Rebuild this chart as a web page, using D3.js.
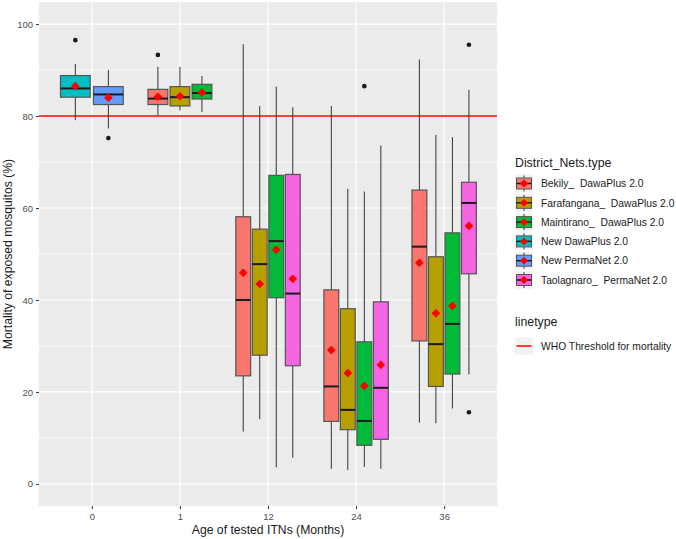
<!DOCTYPE html>
<html>
<head>
<meta charset="utf-8">
<script src="https://cdn.jsdelivr.net/npm/d3@7"></script>
<style>
  body { margin: 0; background: #fff; }
  svg { display: block; font-family: "Liberation Sans", Arial, sans-serif; }
  text { white-space: pre; }
</style>
</head>
<body>
<svg width="676" height="539"></svg>
<script>
// categories on the x axis
let ages = ["0", "1", "12", "24", "36"];
let groups = ["Bekily_  DawaPlus 2.0", "Farafangana_  DawaPlus 2.0", "Maintirano_  DawaPlus 2.0",
              "New DawaPlus 2.0", "New PermaNet 2.0", "Taolagnaro_  PermaNet 2.0"];
let colors = ["#F8766D", "#B79F00", "#00BA38", "#00BFC4", "#619CFF", "#F564E3"];
let yTicks = [0, 20, 40, 60, 80, 100];
let threshold = 80;

// one entry per box (age, group index) and its stats
let boxAge   = ["0", "0", "1", "1", "1", "12", "12", "12", "12", "24", "24", "24", "24", "36", "36", "36", "36"];
let boxGroup = [3, 4, 0, 1, 2, 0, 1, 2, 5, 0, 1, 2, 5, 0, 1, 2, 5];
let whiskLo  = [79.1, 77.3, 80.2, 81.2, 80.9, 11.4, 14.1, 3.6, 5.7, 3.3, 3.0, 3.7, 3.3, 13.3, 13.2, 16.4, 23.8];
let q1       = [84.1, 82.5, 82.5, 82.2, 83.7, 23.5, 28.0, 40.5, 25.7, 13.6, 11.8, 8.4, 9.7, 31.1, 21.2, 23.9, 45.7];
let median   = [86.0, 84.7, 83.8, 84.1, 85.0, 40.0, 47.8, 52.8, 41.4, 21.2, 16.1, 13.7, 20.9, 51.6, 30.4, 34.8, 61.1];
let q3       = [88.8, 86.4, 85.8, 86.4, 86.9, 58.1, 55.4, 67.1, 67.3, 42.2, 38.1, 30.9, 39.6, 63.9, 49.4, 54.6, 65.6];
let whiskHi  = [91.3, 90.0, 90.7, 90.7, 88.7, 95.6, 82.2, 86.4, 81.9, 82.2, 64.2, 63.6, 73.6, 92.3, 75.9, 75.4, 85.7];
let means    = [86.5, 84.0, 84.2, 84.3, 85.1, 45.9, 43.5, 50.9, 44.6, 29.1, 24.1, 21.3, 25.9, 48.1, 37.1, 38.7, 56.1];
let outliers = [[96.5], [75.2], [93.3], [], [], [], [], [], [], [], [], [86.5], [], [], [], [], [95.5, 15.6]];

let svg = d3.select("svg"),
    panel = { left: 39, right: 497, top: 2, bottom: 506 };

let x = d3.scalePoint()
    .domain(ages)
    .range([panel.left, panel.right])
    .padding(0.6);
let y = d3.scaleLinear()
    .domain([-4.8, 104.8])
    .range([panel.bottom, panel.top]);

let step = x.step();

// panel background and grid
svg.append("rect")
    .attr("x", panel.left).attr("y", panel.top)
    .attr("width", panel.right - panel.left).attr("height", panel.bottom - panel.top)
    .attr("fill", "#EBEBEB");

let minor = d3.range(10, 100, 20);
svg.append("g").selectAll("line").data(minor).join("line")
    .attr("x1", panel.left).attr("x2", panel.right)
    .attr("y1", d => y(d)).attr("y2", d => y(d))
    .attr("stroke", "#fff").attr("stroke-width", 0.6);
svg.append("g").selectAll("line").data(yTicks).join("line")
    .attr("x1", panel.left).attr("x2", panel.right)
    .attr("y1", d => y(d)).attr("y2", d => y(d))
    .attr("stroke", "#fff").attr("stroke-width", 1.2);
svg.append("g").selectAll("line").data(ages).join("line")
    .attr("y1", panel.top).attr("y2", panel.bottom)
    .attr("x1", d => x(d)).attr("x2", d => x(d))
    .attr("stroke", "#fff").attr("stroke-width", 1.2);

// threshold line
svg.append("line")
    .attr("x1", panel.left).attr("x2", panel.right)
    .attr("y1", y(threshold)).attr("y2", y(threshold))
    .attr("stroke", "#FF0000").attr("stroke-width", 1.5);

// box positions (dodged inside each age)
let boxes = boxAge.map((a, i) => {
    let same = boxAge.filter(b => b === a).length,
        k = boxAge.slice(0, i).filter(b => b === a).length,
        slot = step * 0.75 / same;
    return {
        cx: x(a) - step * 0.375 + slot * (k + 0.5),
        w: slot * 0.9,
        i: i
    };
});

let bg = svg.append("g");
boxes.forEach(b => {
    let i = b.i, g = bg.append("g");
    g.append("line")
        .attr("x1", b.cx).attr("x2", b.cx)
        .attr("y1", y(whiskHi[i])).attr("y2", y(whiskLo[i]))
        .attr("stroke", "#333").attr("stroke-width", 1);
    g.append("rect")
        .attr("x", b.cx - b.w / 2).attr("width", b.w)
        .attr("y", y(q3[i])).attr("height", y(q1[i]) - y(q3[i]))
        .attr("fill", colors[boxGroup[i]])
        .attr("stroke", "#555").attr("stroke-width", 1.2);
    g.append("line")
        .attr("x1", b.cx - b.w / 2).attr("x2", b.cx + b.w / 2)
        .attr("y1", y(median[i])).attr("y2", y(median[i]))
        .attr("stroke", "#1a1a1a").attr("stroke-width", 2);
    g.selectAll("circle").data(outliers[i]).join("circle")
        .attr("cx", b.cx).attr("cy", d => y(d))
        .attr("r", 2.3).attr("fill", "#1a1a1a");
    g.append("path")
        .attr("d", d3.symbol(d3.symbolDiamond2, 48)())
        .attr("transform", `translate(${b.cx},${y(means[i])})`)
        .attr("fill", "#FF0000");
});

// axes
let yAxis = svg.append("g")
    .attr("transform", `translate(${panel.left},0)`)
    .call(d3.axisLeft(y).tickValues(yTicks).tickSize(3).tickPadding(3));
let xAxis = svg.append("g")
    .attr("transform", `translate(0,${panel.bottom})`)
    .call(d3.axisBottom(x).tickSize(3).tickPadding(4));
[yAxis, xAxis].forEach(a => {
    a.select(".domain").remove();
    a.selectAll(".tick line").attr("stroke", "#333");
    a.selectAll(".tick text").attr("fill", "#4D4D4D")
        .style("font-size", "9.5px").style("font-family", "Liberation Sans, Arial, sans-serif");
});

svg.append("text")
    .attr("x", (panel.left + panel.right) / 2).attr("y", 534)
    .attr("text-anchor", "middle")
    .style("font-size", "12.2px").attr("fill", "#1a1a1a")
    .text("Age of tested ITNs (Months)");
svg.append("text")
    .attr("transform", `translate(12,${(panel.top + panel.bottom) / 2}) rotate(-90)`)
    .attr("text-anchor", "middle")
    .style("font-size", "12.2px").attr("fill", "#1a1a1a")
    .text("Mortality of exposed mosquitos (%)");

// legend: fill
let lg = svg.append("g").attr("transform", "translate(515,0)");
lg.append("text").attr("x", 0).attr("y", 166.5)
    .style("font-size", "12.3px").attr("fill", "#1a1a1a")
    .text("District_Nets.type");
groups.forEach((name, i) => {
    let cy = 183.5 + i * 19.3,
        k = lg.append("g").attr("transform", `translate(0,${cy})`);
    k.append("rect").attr("x", 0).attr("y", -9).attr("width", 18).attr("height", 18).attr("fill", "#F2F2F2");
    k.append("line").attr("x1", 9).attr("x2", 9).attr("y1", -8).attr("y2", 8).attr("stroke", "#333");
    k.append("rect").attr("x", 1.5).attr("y", -5.5).attr("width", 15).attr("height", 11)
        .attr("fill", colors[i]).attr("stroke", "#555").attr("stroke-width", 1);
    k.append("line").attr("x1", 1.5).attr("x2", 16.5).attr("y1", 0).attr("y2", 0).attr("stroke", "#1a1a1a").attr("stroke-width", 1.5);
    k.append("path").attr("d", d3.symbol(d3.symbolDiamond2, 40)())
        .attr("transform", "translate(9,0)").attr("fill", "#FF0000");
    lg.append("text").attr("x", 26).attr("y", cy + 3.7)
        .style("font-size", "10.3px").attr("fill", "#1a1a1a")
        .text(name);
});

// legend: linetype
lg.append("text").attr("x", 0).attr("y", 326)
    .style("font-size", "12.3px").attr("fill", "#1a1a1a")
    .text("linetype");
lg.append("rect").attr("x", 0).attr("y", 337).attr("width", 18).attr("height", 18).attr("fill", "#F2F2F2");
lg.append("line").attr("x1", 1.5).attr("x2", 16.5).attr("y1", 346).attr("y2", 346)
    .attr("stroke", "#FF0000").attr("stroke-width", 1.5);
lg.append("text").attr("x", 26).attr("y", 349.7)
    .style("font-size", "10.3px").attr("fill", "#1a1a1a")
    .text("WHO Threshold for mortality");
</script>
</body>
</html>
